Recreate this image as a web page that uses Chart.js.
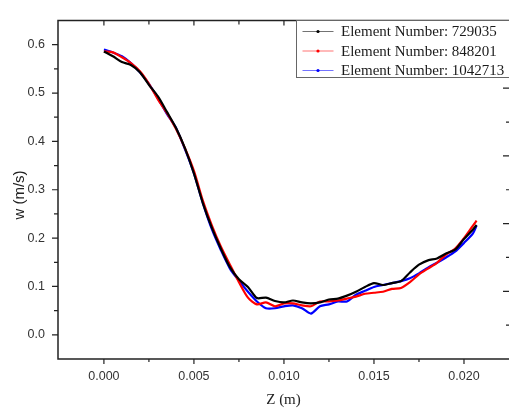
<!DOCTYPE html>
<html lang="en">
<head>
  <meta charset="UTF-8">
  <title>w vs Z</title>
  <style>
    body { margin: 0; background: #fff; }
  </style>
</head>
<body>
  <canvas id="lineChart" width="509" height="408"></canvas>

  <script src="https://cdn.jsdelivr.net/npm/chart.js@4.4.1/dist/chart.umd.min.js"></script>
  <script>
    // Z positions (m), shared by the three meshes
    const zPoints = [0, 0.0005, 0.001, 0.0015, 0.002, 0.0025, 0.003, 0.0035, 0.004, 0.0045,
      0.005, 0.0055, 0.006, 0.0065, 0.007, 0.0075, 0.008, 0.0085, 0.009, 0.0095,
      0.010, 0.0105, 0.011, 0.0115, 0.012, 0.0125, 0.013, 0.0135, 0.014, 0.0145,
      0.015, 0.0155, 0.016, 0.0165, 0.017, 0.0175, 0.018, 0.0185, 0.019, 0.0195,
      0.020, 0.0205, 0.0207];

    // w (m/s) for each mesh
    const w729035 = [0.586, 0.576, 0.564, 0.558, 0.543, 0.517, 0.493, 0.461, 0.428, 0.386,
      0.334, 0.272, 0.221, 0.178, 0.140, 0.115, 0.099, 0.076, 0.077, 0.070,
      0.067, 0.071, 0.067, 0.065, 0.067, 0.073, 0.075, 0.081, 0.089, 0.099,
      0.107, 0.103, 0.107, 0.111, 0.129, 0.145, 0.154, 0.158, 0.168, 0.176,
      0.198, 0.218, 0.227];
    const w848201 = [0.586, 0.584, 0.574, 0.562, 0.545, 0.519, 0.487, 0.459, 0.426, 0.386,
      0.339, 0.277, 0.226, 0.182, 0.145, 0.109, 0.077, 0.063, 0.067, 0.059,
      0.065, 0.065, 0.061, 0.059, 0.069, 0.069, 0.071, 0.075, 0.079, 0.085,
      0.087, 0.089, 0.095, 0.097, 0.109, 0.125, 0.137, 0.149, 0.166, 0.178,
      0.200, 0.226, 0.236];
    const w1042713 = [0.590, 0.584, 0.576, 0.562, 0.543, 0.519, 0.489, 0.457, 0.428, 0.384,
      0.334, 0.272, 0.218, 0.175, 0.137, 0.112, 0.089, 0.069, 0.055, 0.055,
      0.059, 0.061, 0.055, 0.044, 0.059, 0.063, 0.069, 0.069, 0.083, 0.091,
      0.099, 0.103, 0.107, 0.111, 0.117, 0.127, 0.139, 0.149, 0.160, 0.172,
      0.190, 0.210, 0.226];

    const seriesNames = ["Element Number: 729035", "Element Number: 848201", "Element Number: 1042713"];
    const seriesColors = ["#000000", "#ff0000", "#0000ff"];

    // tick values
    const xTickValues = [0, 0.005, 0.010, 0.015, 0.020];
    const xMinorValues = [0.0025, 0.0075, 0.0125, 0.0175];
    const yTickValues = [0, 0.1, 0.2, 0.3, 0.4, 0.5, 0.6];
    const yMinorValues = [0.05, 0.15, 0.25, 0.35, 0.45, 0.55];
    const rightTickValues = [1, 2, 3, 4];
    const rightMinorValues = [0.5, 1.5, 2.5, 3.5, 4.5];

    const toPoints = arr => arr.map((w, i) => ({ x: zPoints[i], y: w }));
    const allSeries = [w729035, w848201, w1042713];

    const tickFont = { family: "'Liberation Sans', Arial, sans-serif", size: 12.5 };

    // frame, tick marks, axis titles and legend box
    const framePlugin = {
      id: "frame",
      afterDraw(chart) {
        const ctx = chart.ctx;
        const a = chart.chartArea;
        const xs = chart.scales.x, ys = chart.scales.y, y2 = chart.scales.y2;
        ctx.save();
        ctx.strokeStyle = "#222";
        ctx.lineWidth = 1.5;
        ctx.beginPath();
        ctx.moveTo(a.right + 2, a.top);
        ctx.lineTo(a.left, a.top);
        ctx.lineTo(a.left, a.bottom);
        ctx.lineTo(a.right + 2, a.bottom);
        ctx.stroke();

        ctx.lineWidth = 1.2;
        ctx.beginPath();
        xTickValues.forEach(v => {
          const px = xs.getPixelForValue(v);
          ctx.moveTo(px, a.bottom); ctx.lineTo(px, a.bottom + 5);
          ctx.moveTo(px, a.top); ctx.lineTo(px, a.top + 5);
        });
        xMinorValues.forEach(v => {
          const px = xs.getPixelForValue(v);
          ctx.moveTo(px, a.bottom); ctx.lineTo(px, a.bottom + 3);
          ctx.moveTo(px, a.top); ctx.lineTo(px, a.top + 4);
        });
        yTickValues.forEach(v => {
          const py = ys.getPixelForValue(v);
          ctx.moveTo(a.left, py); ctx.lineTo(a.left - 6, py);
        });
        yMinorValues.forEach(v => {
          const py = ys.getPixelForValue(v);
          ctx.moveTo(a.left, py); ctx.lineTo(a.left - 4, py);
        });
        rightTickValues.forEach(v => {
          const py = y2.getPixelForValue(v);
          ctx.moveTo(a.right, py); ctx.lineTo(a.right - 6, py);
        });
        rightMinorValues.forEach(v => {
          const py = y2.getPixelForValue(v);
          ctx.moveTo(a.right, py); ctx.lineTo(a.right - 3, py);
        });
        ctx.stroke();

        // axis titles
        ctx.fillStyle = "#222";
        ctx.textAlign = "center";
        ctx.textBaseline = "middle";
        ctx.font = "15px 'Liberation Serif', 'Times New Roman', serif";
        ctx.fillText("Z (m)", (a.left + a.right) / 2, 400);
        ctx.save();
        ctx.translate(20, 195);
        ctx.rotate(-Math.PI / 2);
        ctx.font = "15px 'Liberation Sans', Arial, sans-serif";
        ctx.fillText("w (m/s)", 0, 0);
        ctx.restore();

        // legend
        const bx = 296.5, by = a.top, bh = 57;
        ctx.fillStyle = "#fff";
        ctx.fillRect(bx, by, 240, bh);
        ctx.strokeStyle = "#666";
        ctx.lineWidth = 1;
        ctx.strokeRect(bx, by, 240, bh);
        ctx.font = "15px 'Liberation Serif', 'Times New Roman', serif";
        ctx.textAlign = "left";
        seriesNames.forEach((name, i) => {
          const ry = by + 11 + i * 19.5;
          ctx.strokeStyle = seriesColors[i];
          ctx.globalAlpha = 0.55;
          ctx.beginPath();
          ctx.moveTo(bx + 6, ry); ctx.lineTo(bx + 37, ry);
          ctx.stroke();
          ctx.globalAlpha = 1;
          ctx.fillStyle = seriesColors[i];
          ctx.beginPath();
          ctx.arc(bx + 21.5, ry, 1.6, 0, Math.PI * 2);
          ctx.fill();
          ctx.fillStyle = "#1a1a1a";
          ctx.fillText(name, bx + 44.5, ry + 1);
        });
        ctx.restore();
      }
    };

    const ctx = document.getElementById("lineChart").getContext("2d");
    new Chart(ctx, {
      type: "line",
      data: {
        datasets: allSeries.map((arr, i) => ({
          label: seriesNames[i],
          data: toPoints(arr),
          borderColor: seriesColors[i],
          backgroundColor: seriesColors[i],
          borderWidth: 2.2,
          pointRadius: 0,
          tension: 0.25,
          fill: false
        }))
      },
      options: {
        responsive: false,
        animation: false,
        layout: { padding: { top: 12, right: 0, left: 0, bottom: 0 } },
        plugins: {
          legend: { display: false },
          tooltip: { enabled: false }
        },
        scales: {
          x: {
            type: "linear",
            position: "bottom",
            min: -0.00255,
            max: 0.0225,
            grid: { display: false, drawTicks: false },
            border: { display: false },
            ticks: {
              font: tickFont,
              color: "#333",
              padding: 10,
              maxRotation: 0,
              callback: v => Number(v).toFixed(3)
            },
            afterBuildTicks: s => { s.ticks = xTickValues.map(v => ({ value: v })); },
            afterFit: s => { s.height = 49; }
          },
          y: {
            type: "linear",
            position: "left",
            min: -0.05,
            max: 0.65,
            grid: { display: false, drawTicks: false },
            border: { display: false },
            ticks: {
              font: tickFont,
              color: "#333",
              padding: 13,
              callback: v => Number(v).toFixed(1)
            },
            afterBuildTicks: s => { s.ticks = yTickValues.map(v => ({ value: v })); },
            afterFit: s => { s.width = 58; }
          },
          y2: {
            type: "linear",
            position: "right",
            min: 0,
            max: 5,
            grid: { display: false, drawTicks: false },
            border: { display: false },
            ticks: { display: false },
            afterFit: s => { s.width = 0; }
          }
        }
      },
      plugins: [framePlugin]
    });
  </script>
</body>
</html>
